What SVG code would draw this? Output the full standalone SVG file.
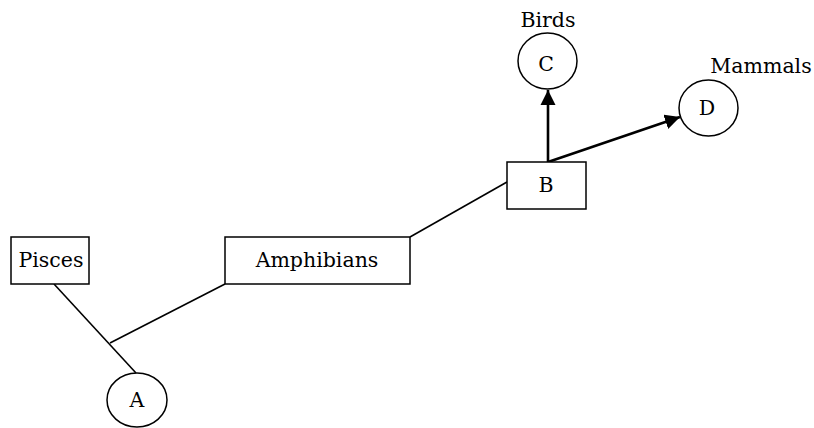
<svg xmlns="http://www.w3.org/2000/svg" width="814" height="428" viewBox="0 0 814 428">
<style>
.box{fill:#fff;stroke:#000;stroke-width:1.5}
.lbl{font-family:"DejaVu Serif",serif;font-size:20.5px;fill:#000;text-anchor:middle}
.ln{stroke:#000;stroke-width:1.6;fill:none}
.ar{stroke:#000;stroke-width:2.6;fill:none}
</style>
<defs>
<marker id="ah" viewBox="0 0 10 10" refX="10" refY="5" markerWidth="5.8" markerHeight="5.8" markerUnits="strokeWidth" orient="auto">
<path d="M0,0 L10,5 L0,10 Z" fill="#000"/>
</marker>
</defs>
<g id="connectors">
<line class="ln" x1="54" y1="284" x2="136" y2="373"/>
<line class="ln" x1="110" y1="343" x2="225" y2="284"/>
<line class="ln" x1="410" y1="237" x2="507" y2="182"/>
<line class="ar" x1="548" y1="162" x2="548" y2="90" marker-end="url(#ah)"/>
<line class="ar" x1="548" y1="162" x2="680" y2="117" marker-end="url(#ah)"/>
</g>
<g id="pisces"><rect class="box" x="11" y="237" width="78" height="47"/><text class="lbl" x="51" y="267">Pisces</text></g>
<g id="amphibians"><rect class="box" x="225" y="237" width="185" height="47"/><text class="lbl" x="317" y="267">Amphibians</text></g>
<g id="B"><rect class="box" x="507" y="162" width="79" height="47"/><text class="lbl" x="546" y="192">B</text></g>
<g id="A"><ellipse class="box" cx="137" cy="400" rx="30" ry="27"/><text class="lbl" x="137" y="407">A</text></g>
<g id="C"><ellipse class="box" cx="547.5" cy="61" rx="29.5" ry="28"/><text class="lbl" x="546" y="71">C</text><text class="lbl" x="548" y="27">Birds</text></g>
<g id="D"><ellipse class="box" cx="708.5" cy="108" rx="29.5" ry="28"/><text class="lbl" x="707" y="115">D</text><text class="lbl" x="761" y="73">Mammals</text></g>
</svg>
